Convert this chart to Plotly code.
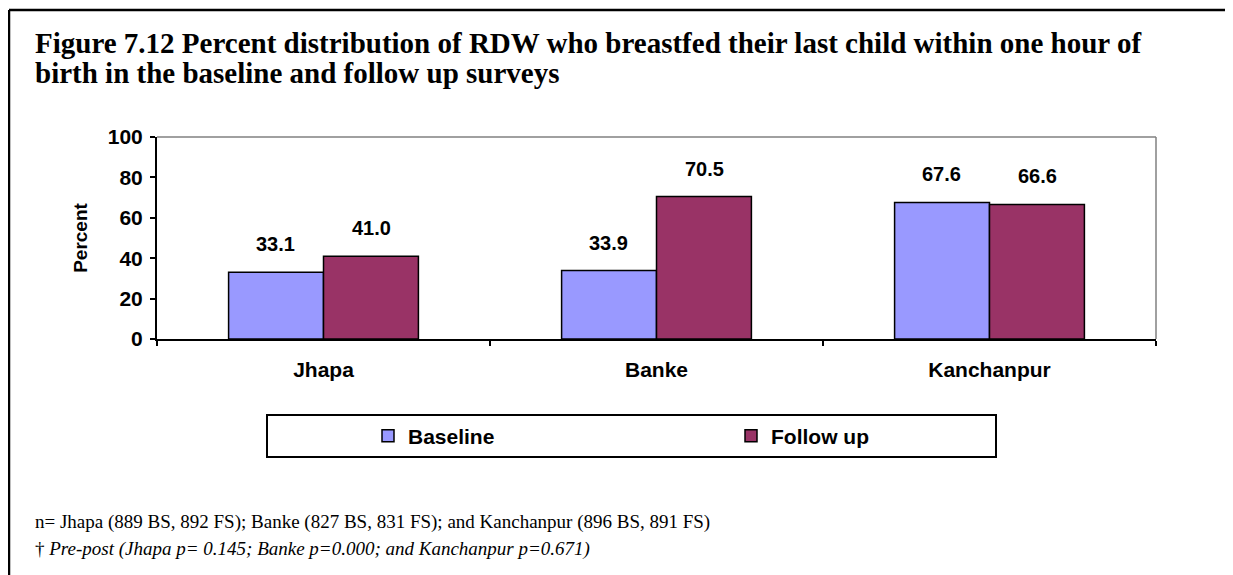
import plotly.graph_objects as go

categories = ["Jhapa", "Banke", "Kanchanpur"]
baseline = [33.1, 33.9, 67.6]
follow_up = [41.0, 70.5, 66.6]
series_names = ["Baseline", "Follow up"]
y_ticks = [0, 20, 40, 60, 80, 100]

title_line1 = "Figure 7.12 Percent distribution of RDW who breastfed their last child within one hour of"
title_line2 = "birth in the baseline and follow up surveys"
note1 = "n= Jhapa (889 BS, 892 FS); Banke (827 BS, 831 FS); and Kanchanpur (896 BS, 891 FS)"
note2 = "† <i>Pre-post (Jhapa p= 0.145; Banke p=0.000; and Kanchanpur p=0.671)</i>"

# page has an 8px body margin, so figure coords = page coords - 8
W, H = 1225, 567
L, R, T, B = 149, 77, 129, 236
PW, PH = W - L - R, H - T - B


def px(x):
    return (x - L) / PW


def py(y):
    return (H - B - y) / PH


sans = "Arial, Liberation Sans, sans-serif"
serif = "Times New Roman, Liberation Serif, serif"

fig = go.Figure()
fig.add_trace(go.Bar(x=categories, y=baseline, name=series_names[0],
                     marker=dict(color="#9999FF", line=dict(color="black", width=1.5))))
fig.add_trace(go.Bar(x=categories, y=follow_up, name=series_names[1],
                     marker=dict(color="#993366", line=dict(color="black", width=1.5))))

annotations = []
for vals, shift in ((baseline, -48), (follow_up, 48)):
    for c, v in zip(categories, vals):
        annotations.append(dict(x=c, y=v, xref="x", yref="y", text=f"{v:.1f}", showarrow=False,
                                xshift=shift, yshift=28, yanchor="middle",
                                font=dict(family=sans, size=20, color="black", weight="bold")))

for txt, yc in ((title_line1, 35), (title_line2, 65)):
    annotations.append(dict(x=px(25), y=py(yc), xref="paper", yref="paper", xanchor="left",
                            yanchor="middle", align="left", text=txt, showarrow=False,
                            font=dict(family=serif, size=29, color="black", weight="bold")))
for txt, yc in ((note1, 514), (note2, 541)):
    annotations.append(dict(x=px(25), y=py(yc), xref="paper", yref="paper", xanchor="left",
                            yanchor="middle", align="left", text=txt, showarrow=False,
                            font=dict(family=serif, size=19, color="black")))

shapes = [
    # outer frame (left and top edges)
    dict(type="line", xref="paper", yref="paper", x0=px(1), x1=px(1), y0=py(2), y1=py(575),
         line=dict(color="black", width=2.5)),
    dict(type="line", xref="paper", yref="paper", x0=px(1), x1=px(1240), y0=py(2), y1=py(2),
         line=dict(color="black", width=2.5)),
    # plot area gray border top / right
    dict(type="line", xref="paper", yref="paper", x0=0, x1=1, y0=1, y1=1,
         line=dict(color="#808080", width=1.5)),
    dict(type="line", xref="paper", yref="paper", x0=1, x1=1, y0=0, y1=1,
         line=dict(color="#808080", width=1.5)),
    # legend box
    dict(type="rect", xref="paper", yref="paper", x0=px(259), x1=px(988), y0=py(407), y1=py(449),
         line=dict(color="black", width=2), fillcolor="rgba(0,0,0,0)"),
]

fig.update_layout(
    width=W, height=H,
    margin=dict(l=L, r=R, t=T, b=B, autoexpand=False),
    paper_bgcolor="white", plot_bgcolor="white",
    barmode="group", bargap=0.43, bargroupgap=0,
    showlegend=True,
    legend=dict(orientation="h", x=px(360), xanchor="left", y=py(428), yanchor="middle",
                entrywidth=318, entrywidthmode="pixels", borderwidth=0, bgcolor="rgba(0,0,0,0)",
                font=dict(family=sans, size=21, color="black", weight="bold")),
    annotations=annotations,
    shapes=shapes,
    xaxis=dict(type="category", showline=True, linecolor="black", linewidth=2,
               ticks="outside", tickson="boundaries", ticklen=5, tickwidth=2, tickcolor="black",
               ticklabelstandoff=11, showgrid=False,
               tickfont=dict(family=sans, size=21, color="black", weight="bold")),
    yaxis=dict(range=[0, 100], tickvals=y_ticks, showline=True, linecolor="black", linewidth=2,
               ticks="outside", ticklen=5, tickwidth=2, tickcolor="black", showgrid=False,
               zeroline=False, ticklabelstandoff=3,
               tickfont=dict(family=sans, size=21, color="black", weight="bold"),
               title=dict(text="Percent", standoff=15,
                          font=dict(family=sans, size=19, color="black", weight="bold"))),
)

fig.write_html("out.html")
